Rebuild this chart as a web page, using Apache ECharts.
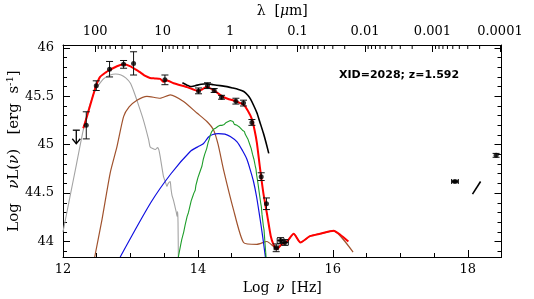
<!DOCTYPE html>
<html>
<head>
<meta charset="utf-8">
<script src="https://cdn.jsdelivr.net/npm/echarts@6/dist/echarts.min.js"></script>
<style>
html,body{margin:0;padding:0;background:#fff;}
#main{width:534px;height:299px;}
</style>
</head>
<body>
<div id="main"></div>
<script>
// ---- axis ranges / tick labels ----
const C_UM = 2.998e14;          // speed of light in micron/s
const xMin = 12, xMax = 18.5;
const yMin = 43.84, yMax = 46.03;
const lambdaDecades = [100, 10, 1, 0.1, 0.01, 0.001, 0.0001];
const lambdaMinorMult = [2, 3, 4, 5, 6, 7, 8, 9];

// ---- observed photometry: log nu, log nuL, y-error, x-error ----
const obsNu   = [12.345, 12.493, 12.690, 12.898, 13.046, 13.511, 14.009, 14.142, 14.241, 14.350, 14.563, 14.676, 14.800, 14.938, 15.016, 15.160, 15.225, 15.290];
const obsL    = [45.20, 45.61, 45.78, 45.83, 45.84, 45.67, 45.556, 45.61, 45.56, 45.49, 45.45, 45.43, 45.23, 44.67, 44.39, 43.935, 44.01, 43.99];
const obsErr  = [0.14, 0.05, 0.08, 0.04, 0.12, 0.05, 0.03, 0.03, 0.02, 0.02, 0.03, 0.03, 0.03, 0.04, 0.06, 0.04, 0.03, 0.03];
const obsXErr = [0, 0, 0, 0, 0, 0, 0, 0, 0, 0, 0, 0, 0, 0, 0, 0.03, 0.05, 0.05];

// ---- X-ray points ----
const xrayNu   = [17.81, 18.42];
const xrayL    = [44.62, 44.89];
const xrayErr  = [0.012, 0.02];
const xrayXErr = [0.05, 0];
const xraySlope = [[18.07, 44.49], [18.19, 44.62]];

// ---- upper limit ----
const ulNu = [12.197];
const ulL  = [45.15];

// ---- model curves [log nu, log nuL] ----
const totalModel = [[12.30,45.17],[12.35,45.28],[12.40,45.40],[12.45,45.52],[12.49,45.61],[12.55,45.70],[12.63,45.745],[12.69,45.77],[12.80,45.81],[12.90,45.83],[13.00,45.81],[13.07,45.78],[13.15,45.745],[13.22,45.71],[13.29,45.69],[13.36,45.685],[13.44,45.68],[13.49,45.65],[13.53,45.665],[13.64,45.635],[13.84,45.595],[14.01,45.556],[14.07,45.575],[14.13,45.595],[14.24,45.56],[14.36,45.50],[14.46,45.47],[14.56,45.45],[14.68,45.41],[14.74,45.35],[14.80,45.265],[14.84,45.15],[14.874,45.02],[14.92,44.76],[14.97,44.50],[15.03,44.26],[15.08,44.055],[15.12,43.97],[15.17,43.92],[15.24,43.97],[15.32,44.00],[15.42,44.08],[15.52,43.99],[15.66,44.055],[15.81,44.08],[16.01,44.11],[16.11,44.07],[16.23,44.00]];
const coldDust = [[12.0,44.10],[12.1,44.45],[12.2,44.80],[12.3,45.15],[12.4,45.42],[12.5,45.59],[12.6,45.68],[12.7,45.72],[12.78,45.73],[12.86,45.72],[12.93,45.69],[13.0,45.635],[13.05,45.55],[13.1,45.45],[13.19,45.26],[13.27,45.05],[13.29,44.98],[13.33,44.96],[13.37,44.95],[13.40,44.97],[13.42,44.95],[13.44,44.88],[13.47,44.75],[13.49,44.67],[13.52,44.61],[13.54,44.57],[13.56,44.60],[13.59,44.62],[13.60,44.55],[13.615,44.48],[13.64,44.42],[13.66,44.36],[13.68,44.30],[13.69,44.26],[13.70,44.31],[13.705,44.20],[13.71,43.84]];
const torus = [[12.47,43.84],[12.578,44.227],[12.70,44.71],[12.80,44.98],[12.898,45.29],[12.98,45.39],[13.096,45.46],[13.244,45.50],[13.44,45.48],[13.59,45.515],[13.787,45.446],[13.985,45.327],[14.133,45.24],[14.23,45.155],[14.30,45.00],[14.38,44.74],[14.527,44.33],[14.676,43.99],[14.874,43.97],[15.022,44.00],[15.12,43.95],[15.17,43.92],[15.24,43.97],[15.32,44.00],[15.42,44.08],[15.52,43.99],[15.66,44.055],[15.81,44.08],[16.01,44.11],[16.30,43.89]];
const accretionDisk = [[12.848,43.84],[13.3,44.40],[13.6,44.70],[13.886,44.93],[14.0,44.98],[14.08,45.01],[14.157,45.08],[14.22,45.105],[14.30,45.115],[14.40,45.11],[14.48,45.085],[14.58,45.03],[14.66,44.94],[14.726,44.85],[14.78,44.73],[14.824,44.62],[14.87,44.46],[14.92,44.24],[14.96,44.05],[15.0,43.84]];
const hostGalaxy = [[13.71,43.84],[13.74,43.95],[13.76,44.02],[13.77,44.00],[13.79,44.10],[13.81,44.17],[13.82,44.15],[13.84,44.26],[13.86,44.30],[13.87,44.28],[13.88,44.36],[13.90,44.42],[13.92,44.46],[13.94,44.50],[13.95,44.49],[13.96,44.53],[13.97,44.58],[13.985,44.62],[14.0,44.66],[14.02,44.70],[14.03,44.72],[14.045,44.70],[14.06,44.78],[14.08,44.85],[14.10,44.90],[14.11,44.88],[14.13,44.96],[14.15,45.02],[14.17,45.06],[14.18,45.09],[14.20,45.13],[14.22,45.14],[14.23,45.16],[14.25,45.15],[14.26,45.17],[14.28,45.16],[14.30,45.19],[14.32,45.18],[14.33,45.20],[14.36,45.20],[14.38,45.22],[14.39,45.21],[14.42,45.23],[14.44,45.22],[14.45,45.24],[14.48,45.25],[14.50,45.23],[14.52,45.24],[14.54,45.21],[14.55,45.22],[14.58,45.20],[14.60,45.19],[14.62,45.18],[14.63,45.17],[14.66,45.15],[14.68,45.13],[14.69,45.135],[14.70,45.11],[14.72,45.09],[14.74,45.06],[14.75,45.05],[14.77,45.00],[14.78,45.01],[14.79,44.96],[14.81,44.90],[14.82,44.91],[14.83,44.85],[14.85,44.78],[14.86,44.75],[14.87,44.69],[14.89,44.60],[14.90,44.58],[14.91,44.50],[14.93,44.40],[14.94,44.36],[14.95,44.28],[14.97,44.16],[14.98,44.12],[14.99,44.02],[15.01,43.84]];
const template = [[13.77,45.64],[13.84,45.615],[13.89,45.60],[13.96,45.61],[14.05,45.625],[14.13,45.63],[14.23,45.62],[14.33,45.61],[14.43,45.60],[14.52,45.585],[14.60,45.57],[14.68,45.55],[14.74,45.51],[14.78,45.47],[14.83,45.40],[14.874,45.33],[14.92,45.23],[14.97,45.12],[15.01,45.02],[15.05,44.91]];

// ---- build ----
const FONT = 'DejaVu Serif';
const obsData = obsNu.map((v, i) => [v, obsL[i], obsErr[i], obsXErr[i]]);
const xrayData = xrayNu.map((v, i) => [v, xrayL[i], xrayErr[i], xrayXErr[i]]);
const errData = obsData.concat(xrayData);
const dotData = obsData.map(d => [d[0], d[1]]).concat(xrayData.map(d => [d[0], d[1]]));
const ulData = ulNu.map((v, i) => [v, ulL[i]]);
const topMinor = [];
lambdaDecades.forEach(d => lambdaMinorMult.forEach(m => {
  const lam = m * d / 10;
  const lnu = Math.log10(C_UM / lam);
  if (lnu > xMin && lnu < xMax) topMinor.push([lnu, yMax]);
}));

function errRender(params, api) {
  const x = api.value(0), y = api.value(1), e = api.value(2), ex = api.value(3);
  const st = {stroke: '#111', lineWidth: 1};
  const ch = [];
  const cap = 3.5;
  if (e > 0) {
    const t = api.coord([x, y + e]), b = api.coord([x, y - e]);
    ch.push({type: 'line', shape: {x1: t[0], y1: t[1], x2: b[0], y2: b[1]}, style: st});
    ch.push({type: 'line', shape: {x1: t[0] - cap, y1: t[1], x2: t[0] + cap, y2: t[1]}, style: st});
    ch.push({type: 'line', shape: {x1: b[0] - cap, y1: b[1], x2: b[0] + cap, y2: b[1]}, style: st});
  }
  if (ex > 0) {
    const l = api.coord([x - ex, y]), r = api.coord([x + ex, y]);
    const c2 = 2.5;
    ch.push({type: 'line', shape: {x1: l[0], y1: l[1], x2: r[0], y2: r[1]}, style: st});
    ch.push({type: 'line', shape: {x1: l[0], y1: l[1] - c2, x2: l[0], y2: l[1] + c2}, style: st});
    ch.push({type: 'line', shape: {x1: r[0], y1: r[1] - c2, x2: r[0], y2: r[1] + c2}, style: st});
  }
  return {type: 'group', children: ch};
}

function ulRender(params, api) {
  const x = api.value(0), y = api.value(1);
  const t = api.coord([x, y]), b = api.coord([x, y - 0.14]);
  const st = {stroke: '#000', lineWidth: 1.3, fill: null};
  return {type: 'group', children: [
    {type: 'line', shape: {x1: t[0] - 3.5, y1: t[1], x2: t[0] + 3.5, y2: t[1]}, style: st},
    {type: 'line', shape: {x1: t[0], y1: t[1], x2: b[0], y2: b[1]}, style: st},
    {type: 'polyline', shape: {points: [[b[0] - 4, b[1] - 5], [b[0], b[1]], [b[0] + 4, b[1] - 5]]}, style: st}
  ]};
}

function topTickRender(params, api) {
  const p = api.coord([api.value(0), api.value(1)]);
  return {type: 'line', shape: {x1: p[0], y1: p[1], x2: p[0], y2: p[1] + 4}, style: {stroke: '#000', lineWidth: 1}};
}

const lineS = (data, color, w, z, smooth) => ({
  type: 'line', data: data, showSymbol: false, symbol: 'none', z: z, smooth: smooth || false,
  lineStyle: {color: color, width: w}, itemStyle: {color: color}, silent: true
});

const chart = echarts.init(document.getElementById('main'));
chart.setOption({
  animation: false,
  backgroundColor: '#fff',
  title: {
    text: 'XID=2028; z=1.592', left: 334, top: 65,
    textStyle: {fontFamily: 'DejaVu Sans', fontWeight: 'bold', fontSize: 11, color: '#000'}
  },
  grid: {left: 63, right: 32.5, top: 45, bottom: 42, containLabel: false, outerBoundsMode: 'none'},
  xAxis: [
    {
      type: 'value', min: xMin, max: xMax, interval: 2, position: 'bottom',
      axisLine: {onZero: false, lineStyle: {color: '#000', width: 1}},
      axisTick: {inside: true, length: 7, lineStyle: {color: '#000'}},
      minorTick: {show: true, splitNumber: 4, length: 4, lineStyle: {color: '#000'}},
      splitLine: {show: false},
      axisLabel: {
        margin: 6, color: '#000', fontFamily: FONT, fontSize: 13,
        formatter: v => (Math.abs(v / 2 - Math.round(v / 2)) < 1e-6 ? String(Math.round(v)) : '')
      },
      name: '{a|Log}  {i|ν}  {a|[Hz]}', nameLocation: 'middle', nameGap: 22,
      nameTextStyle: {rich: {
        a: {fontFamily: FONT, fontSize: 14, color: '#000'},
        i: {fontFamily: FONT, fontSize: 14, fontStyle: 'italic', color: '#000'}
      }}
    },
    {
      type: 'log', logBase: 10, inverse: true, position: 'top',
      min: C_UM / Math.pow(10, xMax), max: C_UM / Math.pow(10, xMin),
      axisLine: {onZero: false, lineStyle: {color: '#000', width: 1}},
      axisTick: {inside: true, length: 7, lineStyle: {color: '#000'}},
      splitLine: {show: false},
      axisLabel: {
        margin: 7, color: '#000', fontFamily: FONT, fontSize: 13,
        showMinLabel: false, showMaxLabel: false,
        formatter: v => {
          const e = Math.log10(v), r = Math.round(e);
          if (Math.abs(e - r) > 1e-6) return '';
          return r >= 0 ? String(Math.pow(10, r)) : Math.pow(10, r).toFixed(-r);
        }
      },
      name: '{a|λ  [}{i|μ}{a|m]}', nameLocation: 'middle', nameGap: 27,
      nameTextStyle: {rich: {
        a: {fontFamily: FONT, fontSize: 14, color: '#000'},
        i: {fontFamily: FONT, fontSize: 14, fontStyle: 'italic', color: '#000'}
      }}
    }
  ],
  yAxis: [
    {
      type: 'value', min: yMin, max: yMax, splitNumber: 4, minInterval: 0.5, maxInterval: 0.5,
      position: 'left',
      axisLine: {onZero: false, lineStyle: {color: '#000', width: 1}},
      axisTick: {inside: true, length: 7, lineStyle: {color: '#000'}},
      minorTick: {show: true, splitNumber: 5, length: 4, lineStyle: {color: '#000'}},
      splitLine: {show: false},
      axisLabel: {
        margin: 9, color: '#000', fontFamily: FONT, fontSize: 13,
        formatter: v => (Math.abs(v * 2 - Math.round(v * 2)) < 1e-6 ? String(Math.round(v * 2) / 2) : '')
      },
      name: '{a|Log   }{i|ν}{a|L(}{i|ν}{a|)   [erg  s}{s|-1}{a|]}', nameLocation: 'middle', nameGap: 40, nameRotate: 90,
      nameMoveOverlap: false,
      nameTextStyle: {rich: {
        a: {fontFamily: FONT, fontSize: 15, color: '#000'},
        i: {fontFamily: FONT, fontSize: 15, fontStyle: 'italic', color: '#000'},
        s: {fontFamily: FONT, fontSize: 10, color: '#000', padding: [0, 0, 8, 0]}
      }}
    },
    {
      type: 'value', min: yMin, max: yMax, splitNumber: 4, minInterval: 0.5, maxInterval: 0.5,
      position: 'right',
      axisLine: {onZero: false, lineStyle: {color: '#000', width: 1}},
      axisTick: {inside: true, length: 7, lineStyle: {color: '#000'}},
      minorTick: {show: true, splitNumber: 5, length: 4, lineStyle: {color: '#000'}},
      splitLine: {show: false},
      axisLabel: {show: false}
    }
  ],
  series: [
    lineS(coldDust, '#a3a3a3', 1.1, 2, 0.15),
    lineS(torus, '#a0522d', 1.2, 3, 0.2),
    lineS(accretionDisk, '#1010e0', 1.2, 3, 0.25),
    lineS(hostGalaxy, '#1e9e2a', 1.1, 3, false),
    lineS(template, '#000000', 1.6, 4, 0.25),
    lineS(totalModel, '#ff0000', 2, 5, 0.2),
    lineS(xraySlope, '#000000', 1.6, 5, false),
    {type: 'custom', renderItem: errRender, data: errData, z: 6, silent: true,
     encode: {x: 0, y: 1}},
    {type: 'scatter', data: dotData, symbol: 'circle', symbolSize: 5, z: 7, silent: true,
     itemStyle: {color: '#000'}},
    {type: 'custom', renderItem: ulRender, data: ulData, z: 6, silent: true, encode: {x: 0, y: 1}},
    {type: 'custom', renderItem: topTickRender, data: topMinor, z: 8, silent: true, clip: false,
     encode: {x: 0, y: 1}}
  ]
});
</script>
</body>
</html>
